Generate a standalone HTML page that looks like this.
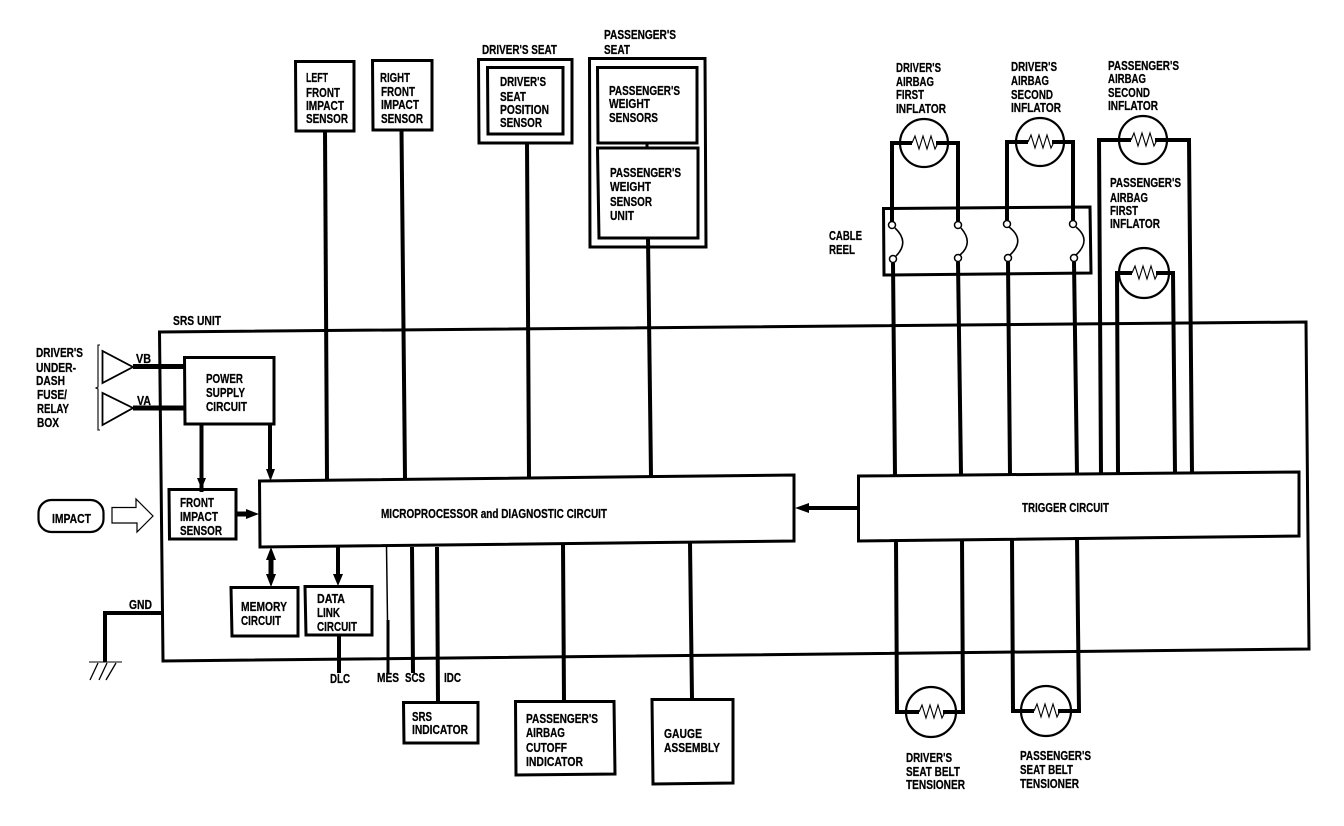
<!DOCTYPE html>
<html><head><meta charset="utf-8"><title>SRS diagram</title>
<style>
html,body{margin:0;padding:0;background:#fff}
svg{display:block}
text{font-family:"Liberation Sans",sans-serif;font-weight:bold;font-size:12.5px;fill:#000;stroke:#000;stroke-width:.25}
</style></head><body>
<svg width="1344" height="826" viewBox="0 0 1344 826" xmlns="http://www.w3.org/2000/svg">
<rect width="1344" height="826" fill="#fff" stroke="none"/>
<g fill="none" stroke="#000" stroke-width="3">
<!-- SRS unit -->
<path d="M159.5 332 L1306 322 L1309 649 L163 661 Z"/>
<!-- Upper boxes -->
<path d="M295.500 61.500 H354 V131 H296 Z"/>
<path d="M372.500 60.500 H432 V130 H373 Z"/>
<path d="M478.500 59.500 H572 V143 H479 Z"/>
<path d="M487.500 67.500 H563 V134 H488 Z"/>
<path d="M589.500 58.500 H705 L706 247 H590 Z"/>
<path d="M597.500 67.500 H697 V143 H598 Z"/>
<path d="M597.500 148 H698 V238 H599 Z"/>
<!-- Inner boxes -->
<path d="M184.500 357.500 H274 V424 H185 Z"/>
<path d="M169 489.500 H236 V539 H169.500 Z"/>
<path d="M231 587.500 H298 V636 H232 Z"/>
<path d="M305 586.500 H372 V635 H306 Z"/>
<path d="M259.500 481 L794 475 V541 L260 547 Z"/>
<path d="M858.500 476 L1299 472 V536 L858.500 541 Z"/>
<!-- Lower boxes -->
<path d="M403.500 702.500 H478 V743 H404 Z"/>
<path d="M515.500 701.500 H614 L615 774 L516 775 Z"/>
<path d="M652 699.500 H733 V783 L653 784 Z"/>
<!-- Cable reel -->
<path d="M883.500 208.500 L1090 207 L1091 273 L884 275 Z"/>
</g>
<g fill="none" stroke="#000" stroke-width="4">
<!-- Vertical links top -->
<path d="M325 131 L327 479"/>
<path d="M401.500 130 L405 478"/>
<path d="M527 143 L529 477"/>
<path d="M648 238 L651 476"/>
<path d="M647 143 V148" stroke-width="3"/>
<!-- Power lines -->
<path d="M201.500 424 V492" stroke-width="4"/>
<path d="M270 424 V470" stroke-width="4"/>
<path d="M236 514 H247" stroke-width="5"/>
<path d="M271 557 V578" stroke-width="5"/>
<path d="M338 547 V575"/>
<path d="M808 508 H858"/>
<path d="M133 366.500 H184" stroke-width="5"/>
<path d="M133 408 H184" stroke-width="5"/>
<!-- Lower links -->
<path d="M339 635 V673"/>
<path d="M386.500 546 L387.500 620" stroke-width="1.500"/>
<path d="M388 620 V673" stroke-width="3"/>
<path d="M412 547 L413 673"/>
<path d="M437 547 L438 702"/>
<path d="M563 544 L564 701"/>
<path d="M690 543 L692 699"/>
<!-- GND -->
<path d="M164 613 H105 V662"/>
<!-- Inflators -->
<path d="M912 143 H892 V222 M937 143 H958 V221"/>
<path d="M1029 142 H1007 V220 M1053 142 H1073 V220"/>
<path d="M1131 140 H1099 L1101 474 M1156 140 H1189 L1192 474" stroke-width="4"/>
<path d="M1132 273 H1117 L1118 473 M1157 273 H1173 L1175 473"/>
<path d="M893 263 L895 476 M958 262 L961 475 M1008 262 L1010 475 M1074 262 L1077 474"/>
<!-- Tensioners -->
<path d="M896 541 L897 712 H920 M962 540 L963 712 H943"/>
<path d="M1012 540 L1013 711 H1034 M1077 537 L1079 711 H1058"/>
</g>
<g fill="#fff" stroke="#000" stroke-width="2.200">
<circle cx="924" cy="143" r="24"/><circle cx="1040" cy="142" r="24"/><circle cx="1143" cy="140" r="24"/><circle cx="1144" cy="273" r="25"/>
<circle cx="931" cy="712" r="25"/><circle cx="1046" cy="711" r="25"/>
</g>
<g fill="none" stroke="#000" stroke-width="4">
<path d="M900 143 H912 M936 143 H948 M1016 142 H1028 M1052 142 H1064 M1119 140 H1131 M1155 140 H1167 M1119 273 H1132 M1156 273 H1169 M906 712 H919 M943 712 H956 M1021 711 H1034 M1058 711 H1071"/>
</g>
<g fill="none" stroke="#000" stroke-width="1.100">
<path d="M912 143 L915 136 L919 149 L923 136 L927 149 L931 136 L935 149 L938 143"/>
<path d="M1028 142 L1031 135 L1035 148 L1039 135 L1043 148 L1047 135 L1051 148 L1054 142"/>
<path d="M1131 140 L1134 133 L1138 146 L1142 133 L1146 146 L1150 133 L1154 146 L1157 140"/>
<path d="M1132 273 L1135 266 L1139 279 L1143 266 L1147 279 L1151 266 L1155 279 L1158 273"/>
<path d="M919 712 L922 705 L926 718 L930 705 L934 718 L938 705 L942 718 L945 712"/>
<path d="M1034 711 L1037 704 L1041 717 L1045 704 L1049 717 L1053 704 L1057 717 L1060 711"/>
<!-- Ground -->
<path d="M89 662 H122"/>
<path d="M98 663 L90 680 M107 663 L99 680 M116 663 L106 680" stroke-width="1.300"/>
<!-- Fuse bracket -->
<path d="M100 345 H98 V387 L96 388 L98 389 V430 H100"/>
</g>
<g fill="none" stroke="#000" stroke-width="1.600">
<!-- Switches -->
<path d="M895 228 Q910 242 896 256 M961 228 Q974 243 960 255 M1009 227 Q1026 240 1010 255 M1076 227 Q1092 240 1076 255"/>
<!-- Triangles -->
<path d="M102.500 351 V383 L133 367 Z" stroke-width="1.800"/>
<path d="M102.500 393 V425 L133 408 Z" stroke-width="1.800"/>
<!-- Impact -->
<rect x="38.500" y="500" width="65" height="32" rx="13" stroke-width="2.200"/>
<path d="M112 507.500 H136 V499 L153 516 L137 532 V523 H112 Z" stroke-width="1.200"/>
</g>
<g fill="#fff" stroke="#000" stroke-width="1.500">
<circle cx="892" cy="225" r="3.500"/><circle cx="893" cy="259" r="3.500"/>
<circle cx="958" cy="225" r="3.500"/><circle cx="958" cy="258" r="3.500"/>
<circle cx="1007" cy="224" r="3.500"/><circle cx="1008" cy="258" r="3.500"/>
<circle cx="1073" cy="224" r="3.500"/><circle cx="1074" cy="258" r="3.500"/>
</g>
<g fill="#000" stroke="none">
<path d="M197 478 H206 L201.500 489 Z"/>
<path d="M266 469 H275 L270.500 481 Z"/>
<path d="M246 509 L259 514 L246 519 Z"/>
<path d="M266 560 L271 547 L276 560 Z"/>
<path d="M266 574 L271 587 L276 574 Z"/>
<path d="M333 574 H343 L338 586 Z"/>
<path d="M809 503 L795 508 L809 513 Z"/>
</g>
<g>
<text x="173" y="325" textLength="48" lengthAdjust="spacingAndGlyphs">SRS UNIT</text>
<text x="36" y="357" textLength="47" lengthAdjust="spacingAndGlyphs">DRIVER'S</text>
<text x="36" y="372" textLength="40" lengthAdjust="spacingAndGlyphs">UNDER-</text>
<text x="36" y="385" textLength="29" lengthAdjust="spacingAndGlyphs">DASH</text>
<text x="37" y="399" textLength="30" lengthAdjust="spacingAndGlyphs">FUSE/</text>
<text x="37" y="413" textLength="32" lengthAdjust="spacingAndGlyphs">RELAY</text>
<text x="37" y="427" textLength="22" lengthAdjust="spacingAndGlyphs">BOX</text>
<text x="136" y="363" textLength="15" lengthAdjust="spacingAndGlyphs">VB</text>
<text x="137" y="405" textLength="14" lengthAdjust="spacingAndGlyphs">VA</text>
<text x="206" y="383" textLength="37" lengthAdjust="spacingAndGlyphs">POWER</text>
<text x="206" y="397" textLength="39" lengthAdjust="spacingAndGlyphs">SUPPLY</text>
<text x="206" y="411" textLength="41" lengthAdjust="spacingAndGlyphs">CIRCUIT</text>
<text x="52" y="523" textLength="39" lengthAdjust="spacingAndGlyphs">IMPACT</text>
<text x="180" y="507" textLength="34" lengthAdjust="spacingAndGlyphs">FRONT</text>
<text x="180" y="521" textLength="38" lengthAdjust="spacingAndGlyphs">IMPACT</text>
<text x="180" y="535" textLength="42" lengthAdjust="spacingAndGlyphs">SENSOR</text>
<text x="381" y="518" textLength="226" lengthAdjust="spacingAndGlyphs">MICROPROCESSOR and DIAGNOSTIC CIRCUIT</text>
<text x="241" y="611" textLength="46" lengthAdjust="spacingAndGlyphs">MEMORY</text>
<text x="241" y="625" textLength="40" lengthAdjust="spacingAndGlyphs">CIRCUIT</text>
<text x="317" y="603" textLength="28" lengthAdjust="spacingAndGlyphs">DATA</text>
<text x="317" y="617" textLength="23" lengthAdjust="spacingAndGlyphs">LINK</text>
<text x="317" y="631" textLength="40" lengthAdjust="spacingAndGlyphs">CIRCUIT</text>
<text x="129" y="609" textLength="23" lengthAdjust="spacingAndGlyphs">GND</text>
<text x="330" y="683" textLength="20" lengthAdjust="spacingAndGlyphs">DLC</text>
<text x="377" y="682" textLength="22" lengthAdjust="spacingAndGlyphs">MES</text>
<text x="405" y="682" textLength="20" lengthAdjust="spacingAndGlyphs">SCS</text>
<text x="444" y="682" textLength="17" lengthAdjust="spacingAndGlyphs">IDC</text>
<text x="412" y="721" textLength="20" lengthAdjust="spacingAndGlyphs">SRS</text>
<text x="412" y="734" textLength="56" lengthAdjust="spacingAndGlyphs">INDICATOR</text>
<text x="526" y="723" textLength="72" lengthAdjust="spacingAndGlyphs">PASSENGER'S</text>
<text x="526" y="737" textLength="39" lengthAdjust="spacingAndGlyphs">AIRBAG</text>
<text x="526" y="752" textLength="41" lengthAdjust="spacingAndGlyphs">CUTOFF</text>
<text x="526" y="766" textLength="57" lengthAdjust="spacingAndGlyphs">INDICATOR</text>
<text x="664" y="738" textLength="38" lengthAdjust="spacingAndGlyphs">GAUGE</text>
<text x="664" y="752" textLength="56" lengthAdjust="spacingAndGlyphs">ASSEMBLY</text>
<text x="1022" y="512" textLength="87" lengthAdjust="spacingAndGlyphs">TRIGGER CIRCUIT</text>
<text x="906" y="762" textLength="46" lengthAdjust="spacingAndGlyphs">DRIVER'S</text>
<text x="906" y="776" textLength="54" lengthAdjust="spacingAndGlyphs">SEAT BELT</text>
<text x="906" y="789" textLength="59" lengthAdjust="spacingAndGlyphs">TENSIONER</text>
<text x="1020" y="760" textLength="71" lengthAdjust="spacingAndGlyphs">PASSENGER'S</text>
<text x="1020" y="774" textLength="53" lengthAdjust="spacingAndGlyphs">SEAT BELT</text>
<text x="1020" y="788" textLength="59" lengthAdjust="spacingAndGlyphs">TENSIONER</text>
<text x="306" y="82" textLength="22" lengthAdjust="spacingAndGlyphs">LEFT</text>
<text x="306" y="97" textLength="34" lengthAdjust="spacingAndGlyphs">FRONT</text>
<text x="306" y="110" textLength="38" lengthAdjust="spacingAndGlyphs">IMPACT</text>
<text x="306" y="123" textLength="42" lengthAdjust="spacingAndGlyphs">SENSOR</text>
<text x="380" y="82" textLength="30" lengthAdjust="spacingAndGlyphs">RIGHT</text>
<text x="381" y="96" textLength="34" lengthAdjust="spacingAndGlyphs">FRONT</text>
<text x="381" y="109" textLength="38" lengthAdjust="spacingAndGlyphs">IMPACT</text>
<text x="381" y="123" textLength="42" lengthAdjust="spacingAndGlyphs">SENSOR</text>
<text x="482" y="54" textLength="75" lengthAdjust="spacingAndGlyphs">DRIVER'S SEAT</text>
<text x="500" y="86" textLength="46" lengthAdjust="spacingAndGlyphs">DRIVER'S</text>
<text x="500" y="101" textLength="26" lengthAdjust="spacingAndGlyphs">SEAT</text>
<text x="500" y="114" textLength="49" lengthAdjust="spacingAndGlyphs">POSITION</text>
<text x="500" y="127" textLength="42" lengthAdjust="spacingAndGlyphs">SENSOR</text>
<text x="604" y="39" textLength="72" lengthAdjust="spacingAndGlyphs">PASSENGER'S</text>
<text x="604" y="54" textLength="26" lengthAdjust="spacingAndGlyphs">SEAT</text>
<text x="609" y="95" textLength="71" lengthAdjust="spacingAndGlyphs">PASSENGER'S</text>
<text x="609" y="108" textLength="41" lengthAdjust="spacingAndGlyphs">WEIGHT</text>
<text x="609" y="122" textLength="49" lengthAdjust="spacingAndGlyphs">SENSORS</text>
<text x="610" y="177" textLength="71" lengthAdjust="spacingAndGlyphs">PASSENGER'S</text>
<text x="610" y="191" textLength="41" lengthAdjust="spacingAndGlyphs">WEIGHT</text>
<text x="610" y="206" textLength="42" lengthAdjust="spacingAndGlyphs">SENSOR</text>
<text x="610" y="220" textLength="24" lengthAdjust="spacingAndGlyphs">UNIT</text>
<text x="896" y="72" textLength="45" lengthAdjust="spacingAndGlyphs">DRIVER'S</text>
<text x="896" y="86" textLength="38" lengthAdjust="spacingAndGlyphs">AIRBAG</text>
<text x="896" y="99" textLength="28" lengthAdjust="spacingAndGlyphs">FIRST</text>
<text x="896" y="113" textLength="50" lengthAdjust="spacingAndGlyphs">INFLATOR</text>
<text x="1011" y="71" textLength="46" lengthAdjust="spacingAndGlyphs">DRIVER'S</text>
<text x="1011" y="85" textLength="38" lengthAdjust="spacingAndGlyphs">AIRBAG</text>
<text x="1011" y="99" textLength="42" lengthAdjust="spacingAndGlyphs">SECOND</text>
<text x="1011" y="112" textLength="50" lengthAdjust="spacingAndGlyphs">INFLATOR</text>
<text x="1108" y="70" textLength="71" lengthAdjust="spacingAndGlyphs">PASSENGER'S</text>
<text x="1108" y="83" textLength="38" lengthAdjust="spacingAndGlyphs">AIRBAG</text>
<text x="1108" y="97" textLength="42" lengthAdjust="spacingAndGlyphs">SECOND</text>
<text x="1108" y="110" textLength="50" lengthAdjust="spacingAndGlyphs">INFLATOR</text>
<text x="1110" y="187" textLength="71" lengthAdjust="spacingAndGlyphs">PASSENGER'S</text>
<text x="1110" y="202" textLength="38" lengthAdjust="spacingAndGlyphs">AIRBAG</text>
<text x="1110" y="215" textLength="28" lengthAdjust="spacingAndGlyphs">FIRST</text>
<text x="1110" y="228" textLength="50" lengthAdjust="spacingAndGlyphs">INFLATOR</text>
<text x="829" y="240" textLength="33" lengthAdjust="spacingAndGlyphs">CABLE</text>
<text x="829" y="254" textLength="26" lengthAdjust="spacingAndGlyphs">REEL</text>
</g>
</svg>
</body></html>
